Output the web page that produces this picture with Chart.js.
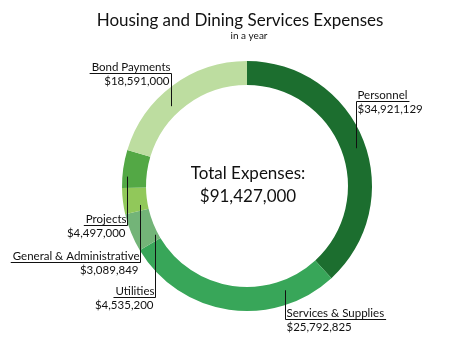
<!DOCTYPE html>
<html>
<head>
<meta charset="utf-8">
<title>Housing and Dining Services Expenses</title>
<script src="https://cdn.jsdelivr.net/npm/chart.js@4"></script>
<style>
  body { margin: 0; background: #fff; }
  canvas { display: block; }
</style>
</head>
<body>
<canvas id="expenseChart" width="462" height="346"></canvas>
<script>
// Expense categories, clockwise from 12 o'clock
let categories = ['Personnel', 'Services & Supplies', 'Utilities', 'General & Administrative', 'Projects', 'Bond Payments'];
let amounts = [34921129, 25792825, 4535200, 3089849, 4497000, 18591000];
let sliceColors = ['#1c6e2f', '#38a659', '#73b478', '#91c85a', '#53a845', '#bddda0'];

// Callout placement: side the text hangs from the leader, y of the underline,
// and where inside the slice the leader ends (fraction of sweep / of ring depth)
let calloutSide = ['right', 'right', 'left', 'left', 'left', 'left'];
let calloutLineY = [101, 319, 297, 262, 225, 73];
let calloutAngle = [0.515, 0.22, 0.165, 0.25, 0.305, 0.406];
let calloutDepth = [0.58, 0.42, 0.12, 0.32, 0.79, 0.375];

const FONT = 'Lato, "Open Sans", sans-serif';

function money(v) {
    return '$' + v.toLocaleString('en-US');
}

// Title, centre total and the leader-line labels
const callouts = {
    id: 'callouts',
    afterDraw(chart) {
        let ctx = chart.ctx;
        let arcs = chart.getDatasetMeta(0).data;
        ctx.save();
        ctx.fillStyle = '#111';
        ctx.strokeStyle = '#111';
        ctx.lineWidth = 1;

        // heading
        ctx.textAlign = 'center';
        ctx.textBaseline = 'alphabetic';
        ctx.font = '17px ' + FONT;
        ctx.fillText('Housing and Dining Services Expenses', 240, 26);
        ctx.font = '10px ' + FONT;
        ctx.fillText('in a year', 249, 39);

        // total in the hole
        let total = amounts.reduce((a, b) => a + b, 0);
        let cx = arcs[0].x;
        ctx.font = '17px ' + FONT;
        ctx.fillText('Total Expenses:', cx + 1, 179);
        ctx.fillText(money(Math.round(total / 1000) * 1000), cx + 1, 202);

        ctx.font = '11.5px ' + FONT;
        arcs.forEach((arc, i) => {
            let p = arc.getProps(['x', 'y', 'startAngle', 'endAngle', 'innerRadius', 'outerRadius'], true);
            let a = p.startAngle + (p.endAngle - p.startAngle) * calloutAngle[i];
            let r = p.innerRadius + (p.outerRadius - p.innerRadius) * calloutDepth[i];
            let ax = Math.round(p.x + r * Math.cos(a)) + 0.5;
            let ay = p.y + r * Math.sin(a);
            let ly = calloutLineY[i] + 0.5;
            let name = categories[i];
            let w = ctx.measureText(name).width;

            ctx.beginPath();
            ctx.moveTo(ax, ay);
            ctx.lineTo(ax, ly);
            if (calloutSide[i] === 'right') {
                ctx.lineTo(ax + w + 3, ly);
            } else {
                ctx.lineTo(ax - w - 3, ly);
            }
            ctx.stroke();

            if (calloutSide[i] === 'right') {
                ctx.textAlign = 'left';
                ctx.fillText(name, ax + 1, ly - 3);
                ctx.fillText(money(amounts[i]), ax + 1, ly + 11.5);
            } else {
                ctx.textAlign = 'right';
                ctx.fillText(name, ax - 1, ly - 3);
                ctx.fillText(money(amounts[i]), ax - 2, ly + 11.5);
            }
        });
        ctx.restore();
    }
};

new Chart(document.getElementById('expenseChart').getContext('2d'), {
    type: 'doughnut',
    data: {
        labels: categories,
        datasets: [{
            data: amounts,
            backgroundColor: sliceColors,
            borderWidth: 0
        }]
    },
    options: {
        responsive: false,
        animation: false,
        events: [],
        cutout: '80.8%',
        layout: { padding: { left: 122, right: 90, top: 61, bottom: 35 } },
        plugins: {
            legend: { display: false },
            tooltip: { enabled: false }
        }
    },
    plugins: [callouts]
});
</script>
</body>
</html>
